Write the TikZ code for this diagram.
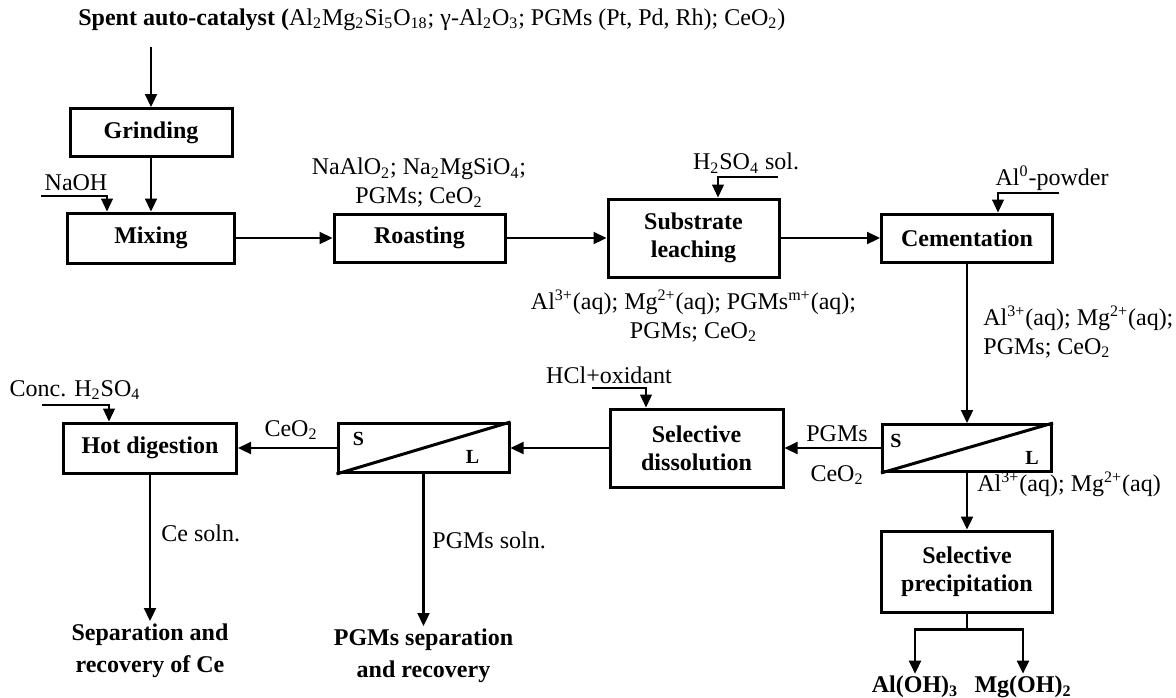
\documentclass[tikz,border=0pt]{standalone}
\usepackage{fontspec}
\setmainfont{Liberation Serif}
\usetikzlibrary{arrows.meta,calc}

\begin{document}
\begin{tikzpicture}[x=0.5pt,y=-0.5pt,
    font=\fontsize{12}{14.5}\selectfont,
    box/.style={draw, line width=1.5pt, align=center, font=\fontsize{12}{14}\selectfont\bfseries,
        minimum width=85.5pt, minimum height=24pt, inner sep=1pt},
    arr/.style={line width=1.1pt, -{Triangle[length=6.5pt,width=6pt]}},
    feed/.style={line width=0.6pt, -{Triangle[length=6.5pt,width=6pt]}},
    lbl/.style={align=center, inner sep=0pt},
    res/.style={align=center, inner sep=1pt, font=\fontsize{12}{16}\selectfont\bfseries}]
    \useasboundingbox (0,0) rectangle (1176,697);
    % process boxes
    \node[box, minimum width=81pt] (grind) at (151,132.5) {Grinding};
    \node[box, minimum width=83.5pt, minimum height=25pt] (mix) at (151,238) {Mixing};
    \node[box] (roast) at (419.5,238) {Roasting};
    \node[box, minimum height=39pt] (leach) at (693.5,238) {Substrate\\leaching};
    \node[box] (cement) at (967,238) {Cementation};
    \node[box, minimum width=84.5pt, minimum height=23.5pt] (sl2) at (967,448) {};
    \node[box, minimum width=86.5pt, minimum height=39pt] (dissol) at (696.5,448) {Selective\\dissolution};
    \node[box, minimum height=24.5pt] (sl1) at (423.5,448) {};
    \node[box, minimum width=86.5pt, minimum height=25pt] (hot) at (150,448) {Hot digestion};
    \node[box, minimum height=40.5pt] (precip) at (967,571.5) {Selective\\precipitation};
    % solid/liquid split
    \draw[line width=1.5pt] (sl1.south west) -- (sl1.north east);
    \draw[line width=1.5pt] (sl2.south west) -- (sl2.north east);
    \node[font=\bfseries] (sl1s) at ($(sl1.north west)+(22,17)$) {S};
    \node[font=\bfseries] (sl1l) at ($(sl1.south east)+(-38,-17)$) {L};
    \node[font=\bfseries] (sl2s) at ($(sl2.north west)+(15,18)$) {S};
    \node[font=\bfseries] (sl2l) at ($(sl2.south east)+(-21,-15)$) {L};
    % feed and reagents
    \node[anchor=base west, inner sep=0pt] (feed) at (78,25) {\textbf{Spent auto-catalyst (}Al\textsubscript{2}Mg\textsubscript{2}Si\textsubscript{5}O\textsubscript{18}; γ-Al\textsubscript{2}O\textsubscript{3}; PGMs (Pt, Pd, Rh); CeO\textsubscript{2})};
    \coordinate (feedin) at (151,47);
    \node[lbl] (naoh) at (76,183) {NaOH};
    \coordinate (naohin) at (41,196);
    \node[lbl] (acid) at (746,163) {H\textsubscript{2}SO\textsubscript{4} sol.};
    \coordinate (acidin) at (778,177);
    \node[lbl] (alpow) at (1052,178) {Al\textsuperscript{0}-powder};
    \coordinate (alpowin) at (1059,193);
    \node[lbl] (hcl) at (609,375) {HCl+oxidant};
    \coordinate (hclin) at (592,388);
    \node[lbl] (conc) at (75,390) {Conc. H\textsubscript{2}SO\textsubscript{4}};
    \coordinate (concin) at (42,405);
    % stream labels
    \node[lbl] (roastout) at (419,183) {NaAlO\textsubscript{2}; Na\textsubscript{2}MgSiO\textsubscript{4};\\PGMs; CeO\textsubscript{2}};
    \node[lbl] (leachout) at (693.5,316) {Al\textsuperscript{3+}(aq); Mg\textsuperscript{2+}(aq); PGMs\textsuperscript{m+}(aq);\\PGMs; CeO\textsubscript{2}};
    \node[lbl, align=left, anchor=west] (cemout) at (983,332) {Al\textsuperscript{3+}(aq); Mg\textsuperscript{2+}(aq);\\PGMs; CeO\textsubscript{2}};
    \node[lbl] (pgmsolid) at (837,434) {PGMs};
    \node[lbl] (ceosolid) at (837,475) {CeO\textsubscript{2}};
    \node[lbl] (ceo) at (291,430) {CeO\textsubscript{2}};
    \node[lbl, anchor=west] (liq) at (977,484) {Al\textsuperscript{3+}(aq); Mg\textsuperscript{2+}(aq)};
    \node[lbl, anchor=west] (cesoln) at (161,533) {Ce soln.};
    \node[lbl, anchor=west] (pgmsoln) at (432,540) {PGMs soln.};
    % products
    \node[res, anchor=north] (cerec) at (150,621) {Separation and\\recovery of Ce};
    \node[res, anchor=north] (pgmrec) at (423.5,626) {PGMs separation\\and recovery};
    \node[res] (aloh) at (915,687) {Al(OH)\textsubscript{3}};
    \node[res] (mgoh) at (1023,687) {Mg(OH)\textsubscript{2}};
    \coordinate (split) at ($(precip.south)+(0,16)$);
    % streams
    \draw[arr] (feedin) -- (grind);
    \draw[arr] (grind) -- (mix);
    \draw[arr] (mix) -- (roast);
    \draw[arr] (roast) -- (leach);
    \draw[arr] (leach) -- (cement);
    \draw[arr] (cement) -- (sl2);
    \draw[arr] (sl2) -- (dissol);
    \draw[arr] (dissol) -- (sl1);
    \draw[arr] (sl1) -- (hot);
    \draw[arr] (hot) -- (cerec);
    \draw[arr] (sl1) -- (pgmrec);
    \draw[arr] (sl2) -- (precip);
    \draw[line width=1.1pt] (precip.south) -- (split);
    \draw[arr] (split) -| (aloh.north);
    \draw[arr] (split) -| (mgoh.north);
    \draw[feed] (naohin) -| ($(mix.north west)+(41,0)$);
    \draw[feed] (acidin) -| ($(leach.north)+(24.5,0)$);
    \draw[feed] (alpowin) -| ($(cement.north)+(31,0)$);
    \draw[feed] (hclin) -| ($(dissol.north)+(-50.5,0)$);
    \draw[feed] (concin) -| ($(hot.north)+(-41,0)$);
\end{tikzpicture}
\end{document}
